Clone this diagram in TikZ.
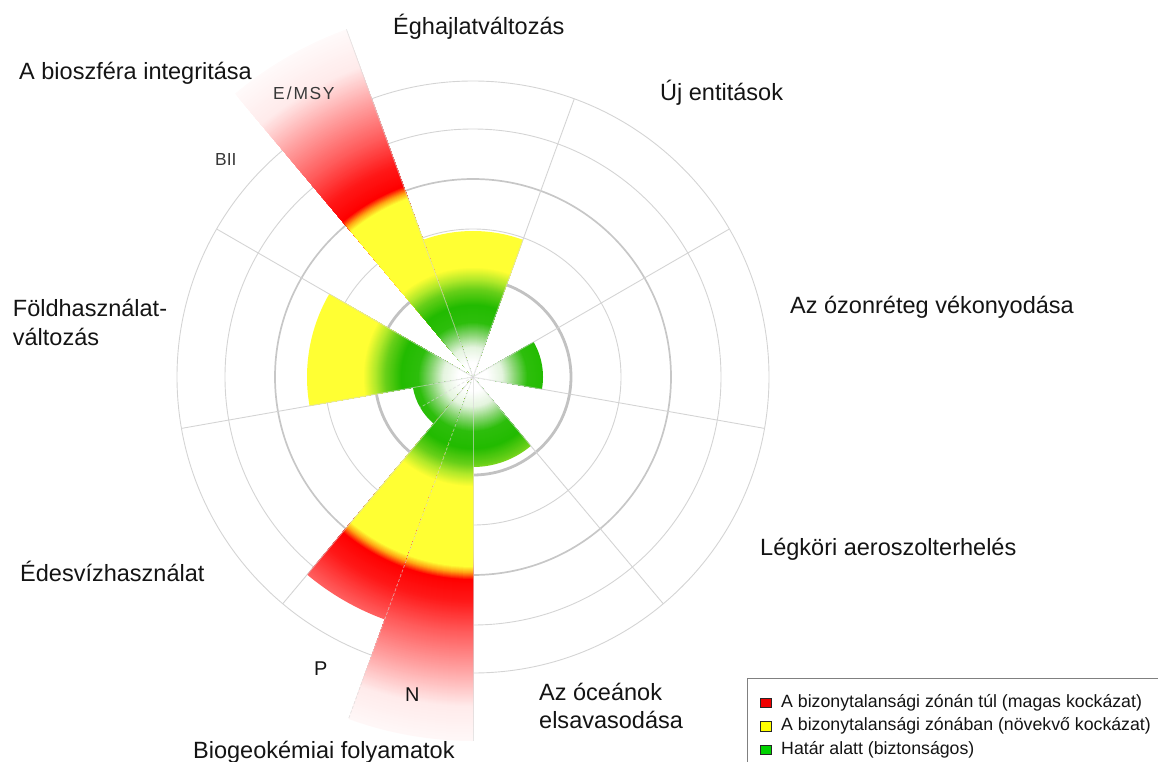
\documentclass[tikz,border=0pt]{standalone}
\usepackage{fontspec}
\setmainfont{Liberation Sans}
\usetikzlibrary{calc}

\definecolor{sA}{RGB}{255,255,255}
\definecolor{sB}{RGB}{228,244,222}
\definecolor{sC}{RGB}{140,214,118}
\definecolor{sD}{RGB}{45,190,12}
\definecolor{sE}{RGB}{34,187,0}
\definecolor{sF}{RGB}{105,208,25}
\definecolor{sG}{RGB}{178,233,42}
\definecolor{sH}{RGB}{255,255,51}
\definecolor{sI}{RGB}{255,165,20}
\definecolor{sJ}{RGB}{255,0,0}
\definecolor{sK}{RGB}{255,25,25}
\definecolor{sL}{RGB}{255,90,90}
\definecolor{sM}{RGB}{255,165,165}
\definecolor{sN}{RGB}{255,235,235}
\definecolor{sO}{RGB}{255,250,250}
\definecolor{legred}{RGB}{238,0,0}
\definecolor{legyellow}{RGB}{255,255,0}
\definecolor{leggreen}{RGB}{0,210,0}
\definecolor{ovlgray}{RGB}{215,215,215}

\newcount\pbr
% one wedge drawn as stacked sectors, outer first
\newcommand\pbwedge[3]{%
  \foreach \ra/\ca/\rb/\cb in {330/sN/370/sO,295/sM/330/sN,255/sL/295/sM,
      225/sK/255/sL,203/sJ/225/sK,196/sI/203/sJ,190/sH/196/sI,110/sH/190/sH,
      98/sG/110/sH,88/sF/98/sG,72/sE/88/sF,55/sD/72/sE,42/sC/55/sD,
      30/sB/42/sC,15/sA/30/sB,0/sA/15/sA}{%
    \pgfmathtruncatemacro\rs{min(\rb,#3)}%
    \pbr=\rs\relax
    \loop\ifnum\pbr>\ra\relax
      \pgfmathtruncatemacro\pp{100*(\the\pbr-\ra)/(\rb-\ra)}%
      \colorlet{pbcur}{\cb!\pp!\ca}%
      \fill[pbcur] (C) -- ++(#1:\the\pbr bp) arc[start angle=#1, end angle=#2, radius=\the\pbr bp] -- cycle;
      \advance\pbr by -1\relax
    \repeat
  }}

\begin{document}
\begin{tikzpicture}[x=1bp,y=1bp,
  lab/.style={anchor=base west, inner sep=0pt, font=\fontsize{23.6}{28}\selectfont, text=black!92},
  sublab/.style={anchor=base west, inner sep=0pt, font=\fontsize{17.5}{20}\selectfont, text=black!78},
  pnlab/.style={anchor=base west, inner sep=0pt, font=\fontsize{20}{24}\selectfont, text=black!92},
  leglab/.style={anchor=base west, inner sep=0pt, font=\fontsize{17.8}{20}\selectfont, text=black!92},
  legsq/.style={draw=black!85, line width=0.9bp, minimum width=10.5bp, minimum height=9.5bp, inner sep=0pt},
  gridthin/.style={draw=black!17, line width=0.9bp},
  gridmid/.style={draw=black!22, line width=1.7bp},
  gridthick/.style={draw=black!24, line width=2.8bp},
  ovl/.style={draw=ovlgray, opacity=0.6, line width=0.8bp},
  ovldash/.style={ovl, dash pattern=on 3bp off 2bp}]
\useasboundingbox (0,-762) rectangle (1158,0);
\coordinate (C) at (473,-377);

% grid
\draw[gridthin] (C) circle[radius=296bp];
\draw[gridthin] (C) circle[radius=248bp];
\draw[gridthin] (C) circle[radius=148bp];
\draw[gridmid] (C) circle[radius=198bp];
\draw[gridthick] (C) circle[radius=98bp];
\foreach \a in {70,30,-10,-50,-90,-130,-170,150,110}
  \draw[gridthin] (C) -- ++(\a:296bp);

% wedges
\pbwedge{70}{110}{146}
\pbwedge{110}{130}{370}
\pbwedge{150}{190}{166}
\pbwedge{190}{230}{61}
\pbwedge{230}{250}{258}
\pbwedge{250}{270}{364}
\pbwedge{270}{310}{90}
\pbwedge{-10}{30}{70}

% faint spokes over wedges
\foreach \a/\r in {70/146,110/370,150/166,-170/166,-130/258,-90/364,-50/90,-10/70,30/70}
  \draw[ovl] (C) -- ++(\a:\r bp);
\draw[ovldash] (C) -- ++(-150:61bp);
\draw[ovldash] (C) -- ++(-110:364bp);

% labels
\node[lab] (climate) at (393,-35) {Éghajlatváltozás};
\node[lab] (novel) at (660,-101) {Új entitások};
\node[lab] (ozone) at (790,-313) {Az ózonréteg vékonyodása};
\node[lab] (aerosol) at (760,-555) {Légköri aeroszolterhelés};
\node[lab] (ocean1) at (539,-700) {Az óceánok};
\node[lab] (ocean2) at (539,-728.3) {elsavasodása};
\node[lab] (biogeo) at (193,-758.5) {Biogeokémiai folyamatok};
\node[lab] (fresh) at (20,-581) {Édesvízhasználat};
\node[lab] (land1) at (12.7,-316.7) {Földhasználat-};
\node[lab] (land2) at (12.7,-345) {változás};
\node[lab] (bio) at (19,-80) {A bioszféra integritása};
\node[sublab] (emsy) at (273,-100) {E\kern2bp/\kern2bp M\kern1.5bp S\kern1.5bp Y};
\node[sublab] (bii) at (215,-165.5) {BII};
\node[pnlab] (plab) at (314,-675) {P};
\node[pnlab] (nlab) at (405,-701.7) {N};

% legend
\begin{scope}
  \clip (0,-762) rectangle (1158,0);
  \node[draw=black!50, line width=1.4bp, fill=white, anchor=north west,
        minimum width=430bp, minimum height=100bp, inner sep=0pt] (legbox) at (747,-678) {};
\end{scope}
\node[legsq, fill=legred] (sq1) at (766,-703) {};
\node[legsq, fill=legyellow] (sq2) at (766,-726.5) {};
\node[legsq, fill=leggreen] (sq3) at (766,-750) {};
\node[leglab] (lt1) at (781,-707.3) {A bizonytalansági zónán túl (magas kockázat)};
\node[leglab] (lt2) at (781,-730.7) {A bizonytalansági zónában (növekvő kockázat)};
\node[leglab] (lt3) at (781,-754.3) {Határ alatt (biztonságos)};
\end{tikzpicture}
\end{document}
